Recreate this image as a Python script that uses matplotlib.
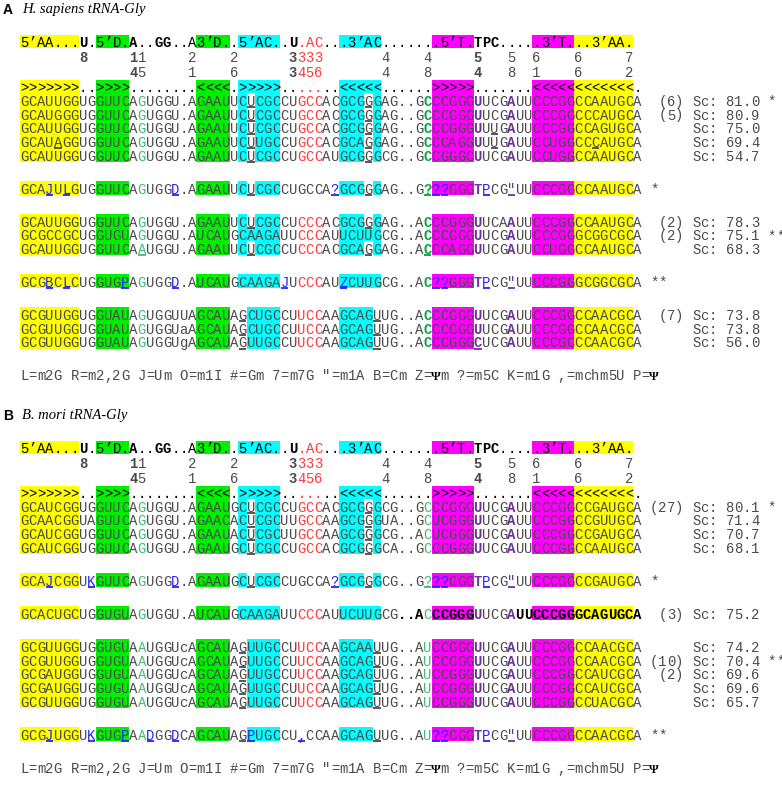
import matplotlib.pyplot as plt
from matplotlib.patches import Rectangle

plt.rcParams['font.family'] = ['Liberation Mono', 'DejaVu Sans Mono']

# ---------------- data ----------------
head = "5’AA... U . 5’D. A .. GG .. A 3’D. . 5’AC. . U .AC .. .3’AC ...... .5’T. TPC .... .3’T. ..3’AA.".replace(" ", "")
struct = ">>>>>>> .. >>>> ........ <<<< . >>>>> ....... <<<<< ...... >>>>> ....... <<<<< <<<<<<< .".replace(" ", "")
boxes = "YYYYYYY .. GGGG ........ GGGG . CCCCC ....... CCCCC ...... MMMMM ....... MMMMM YYYYYYY .".replace(" ", "")
num_top = {7: "8", 13: "11", 20: "2", 25: "2", 32: "3333", 43: "4", 48: "4", 54: "5", 58: "5", 61: "6", 66: "6", 72: "7"}
num_bot = {13: "45", 20: "1", 25: "6", 32: "3456", 43: "4", 48: "8", 54: "4", 58: "8", 61: "1", 66: "6", 72: "2"}
legend = 'L=m2G R=m2,2G J=Um O=m1I #=Gm 7=m7G "=m1A B=Cm Z=Ψm ?=m5C K=m1G ,=mchm5U P=Ψ'

seqs_a = [
    "GCAUUGG UG GUUC AGUGGU.A GAAU U CUCGC CU GCC AC GCGGG AG..G C CCGGG U UCG A UU CCCGG CCAAUGC A",
    "GCAUGGG UG GUUC AGUGGU.A GAAU U CUCGC CU GCC AC GCGGG AG..G C CCGGG U UCG A UU CCCGG CCCAUGC A",
    "GCAUUGG UG GUUC AGUGGU.A GAAU U CUCGC CU GCC AC GCGGG AG..G C CCGGG U UUG A UU CCCGG CCAGUGC A",
    "GCAUAGG UG GUUC AGUGGU.A GAAU U CUUGC CU GCC AC GCAGG AG..G C CCAGG U UUG A UU CCUGG CCCAUGC A",
    "GCAUUGG UG GUUC AGUGGU.A GAAU U CUCGC CU GCC AU GCGGG CG..G C CGGGC U UCG A UU CCUGG CCAAUGC A",
    "GCAJULG UG GUUC AGUGGD.A GAAU U CUCGC CU GCC A? GCGGG AG..G ? ??GGG T PCG \" UU CCCGG CCAAUGC A",
    "GCAUUGG UG GUUC AGUGGU.A GAAU U CUCGC CU CCC AC GCGGG AG..A C CCGGG U UCA A UU CCCGG CCAAUGC A",
    "GCGCCGC UG GUGU AGUGGU.A UCAU G CAAGA UU CCC AU UCUUG CG..A C CCGGG U UCG A UU CCCGG GCGGCGC A",
    "GCAUUGG UG GUUC AAUGGU.A GAAU U CUCGC CU CCC AC GCAGG AG..A C CCAGG U UCG A UU CCUGG CCAAUGC A",
    "GCGBCLC UG GUGP AGUGGD.A UCAU G CAAGA JU CCC AU ZCUUG CG..A C ??GGG T PCG \" UU CCCGG GCGGCGC A",
    "GCGUUGG UG GUAU AGUGGUUA GCAU A GCUGC CU UCC AA GCAGU UG..A C CCGGG U UCG A UU CCCGG CCAACGC A",
    "GCGUUGG UG GUAU AGUGGUaA GCAU A GCUGC CU UCC AA GCAGU UG..A C CCGGG U UCG A UU CCCGG CCAACGC A",
    "GCGUUGG UG GUAU AGUGGUgA GCAU A GUUGC CU UCC AA GCAGU UG..A C CCGGG C UCG A UU CCCGC CCAACGC A",
]
groups_a = [5, 1, 3, 1, 3]
ul_a = [[27, 41], [27, 41], [27, 41, 56], [4, 27, 41, 56, 68], [27, 41], [27, 41], [27, 41], [],
        [14, 27, 41, 48], [], [26, 42], [26, 42], [26, 42, 54]]
red_a = [1, 1, 1, 1, 1, 0, 1, 1, 1, 1, 1, 1, 1]
counts_a = ["(6)", "(5)", "", "", "", "", "(2)", "(2)", "", "", "(7)", "", ""]
scores_a = ["81.0", "80.9", "75.0", "69.4", "54.7", "", "78.3", "75.1", "68.3", "", "73.8", "73.8", "56.0"]
stars_a = ["*", "", "", "", "", "*", "", "**", "", "**", "", "", ""]

seqs_b = [
    "GCAUCGG UG GUUC AGUGGU.A GAAU G CUCGC CU GCC AC GCGGG CG..G C CCGGG U UCG A UU CCCGG CCGAUGC A",
    "GCAACGG UA GUUC AGUGGU.A GAAC A CUCGC UU GCC AA GCGGG UA..G C UCGGG U UCG A UU CCCGG CCGUUGC A",
    "GCAUCGG UG GUUC AGUGGU.A GAAU A CUCGC UU GCC AA GCGGG CG..A C UCGGG U UCG A UU CCCGG CCGAUGC A",
    "GCAUCGG UG GUUC AGUGGU.A GAAU G CUCGC CU GCC AC GCGGG CA..G C CCGGG U UCG A UU CCCGG CCAAUGC A",
    "GCAJCGG UK GUUC AGUGGD.A GAAU G CUCGC CU GCC A? GCGGG CG..G ? ??GGG T PCG \" UU CCCGG CCGAUGC A",
    "GCACUGC UG GUGU AGUGGU.A UCAU G CAAGA UU CCC AU UCUUG CG..A C CCGGG U UCG A UU CCCGG GCAGUGC A",
    "GCGUUGG UG GUGU AAUGGUcA GCAU A GUUGC CU UCC AA GCAAU UG..A U CCGGG U UCG A UU CCCGG CCAACGC A",
    "GCGUUGG UG GUGU AAUGGUcA GCAU A GUUGC CU UCC AA GCAGU UG..A U CCGGG U UCG A UU CCCGG CCAACGC A",
    "GCGAUGG UG GUGU AAUGGUcA GCAU A GUUGC CU UCC AA GCAGU UG..A U CCGGG U UCG A UU CCCGG CCAUCGC A",
    "GCGAUGG UG GUGU AAUGGUcA GCAU A GUUGC CU UCC AA GCAGU UG..A U CCGGG U UCG A UU CCCGG CCAUCGC A",
    "GCGUUGG UG GUGU AAUGGUcA GCAU A GUUGC CU UCC AA GCAGU UG..A U CCGGG U UCG A UU CCCGG CCUACGC A",
    "GCGJUGG UK GUGP AADGGDCA GCAU A GPUGC CU ,CC AA GCAGU UG..A U ??GGG T PCG \" UU CCCGG CCAACGC A",
]
groups_b = [4, 1, 1, 5, 1]
ul_b = [[27, 41], [27, 41], [27, 41], [27, 41], [27, 41], [],
        [26, 42], [26, 42], [26, 42], [26, 42], [26, 42], [26, 42]]
red_b = [1, 1, 1, 1, 0, 1, 1, 1, 1, 1, 1, 0]
counts_b = ["(27)", "", "", "", "", "(3)", "", "(10)", "(2)", "", "", ""]
scores_b = ["80.1", "71.4", "70.7", "68.1", "", "75.2", "74.2", "70.4", "69.6", "69.6", "65.7", ""]
stars_b = ["*", "", "", "", "*", "", "", "**", "", "", "", "**"]
bold_b = {5: list(range(45, 48)) + list(range(49, 54)) + list(range(59, 74))}

# ---------------- style ----------------
GRAY = '#4a4a4a'
RED = '#ff3a3a'
LGREEN = '#3cbf6e'
DGREEN = '#00a83a'
PURPLE = '#7030a0'
BLUE = '#2222ff'
FILL = {'Y': '#ffff00', 'G': '#00ee00', 'C': '#00ffff', 'M': '#ff00ff'}
MODS = set("JLDBZKP?,")

W, H = 782, 812
X0, CW = 20, 8.4
LH, GAP = 13.7, 33
FS = 10

fig = plt.figure(figsize=(W / 100, H / 100), dpi=100)
ax = fig.add_axes([0, 0, 1, 1])
ax.set_xlim(0, W)
ax.set_ylim(H, 0)
ax.axis('off')


def put(c, y, ch, color=GRAY, bold=False, ul=False, fam=None, size=FS):
    if ch != ' ':
        kw = {'family': fam} if fam else {}
        ax.text(X0 + CW * c + CW / 2, y + 4.6, ch, ha='center', va='baseline', fontsize=size,
                color=color, fontweight='bold' if bold else 'normal', zorder=3, **kw)
    if ul:
        ax.plot([X0 + CW * c + 0.5, X0 + CW * (c + 1) - 0.5], [y + 6.8, y + 6.8],
                color=color, lw=1.3, solid_capstyle='butt', zorder=3)


def fill(y, marks, h):
    c = 0
    while c < len(marks):
        m = marks[c]
        if m in FILL:
            e = c
            while e + 1 < len(marks) and marks[e + 1] == m:
                e += 1
            ax.add_patch(Rectangle((X0 + CW * c, y - 7), CW * (e - c + 1), h, color=FILL[m], lw=0, zorder=1))
            c = e + 1
        else:
            c += 1


def put_str(c, y, s, color=GRAY):
    for i, ch in enumerate(s):
        if ch == 'Ψ':
            put(c + i, y, ch, 'black', bold=True, fam='Liberation Serif', size=9)
        else:
            put(c + i, y, ch, color)


def panel(y0, tag, name, seqs, groups, ul, red, counts, scores, stars, strong48, bold_rows):
    ax.text(3, y0, tag, family='Liberation Sans', fontweight='bold', fontsize=10, va='center')
    ax.text(22, y0, name, family='Liberation Serif', style='italic', fontsize=10.5, va='center')

    y = y0 + 32
    fill(y + 0.5, boxes[:73], 13)
    for c, ch in enumerate(head):
        put(c, y, ch, RED if 33 <= c <= 35 else 'black', bold=c in (7, 13, 16, 17, 32, 54, 55, 56))
    for nums in (num_top, num_bot):
        y += 15
        for c0, digits in nums.items():
            for i, d in enumerate(digits):
                c = c0 + i
                put(c, y, d, RED if 33 <= c <= 35 else GRAY, bold=c in (7, 13, 32, 54))
    y += 15.5
    fill(y, boxes, LH)
    for c, ch in enumerate(struct):
        put(c, y, ch, RED if 33 <= c <= 35 else 'black')

    i = 0
    for g, n in enumerate(groups):
        y += GAP if g > 0 else LH
        for k in range(n):
            if k > 0:
                y += LH
            seq = seqs[i].replace(" ", "")
            assert len(seq) == 74, (tag, i, len(seq))
            marks = [('.' if (b == 'C' and c in ul[i] and seq[c] not in MODS) else b)
                     for c, b in enumerate(boxes)]
            fill(y, marks, LH)
            bolds = bold_rows.get(i, [])
            for c, ch in enumerate(seq):
                color, bold, u = GRAY, c in bolds, c in ul[i]
                if ch in MODS:
                    u = True
                    color = (DGREEN if strong48 else LGREEN) if c == 48 else BLUE
                    bold = strong48 and c == 48
                elif ch == '"':
                    color, u = PURPLE, True
                elif c in (54, 58):
                    color, bold = PURPLE, True
                elif c == 48:
                    color, bold = (DGREEN, True) if strong48 else (LGREEN, False)
                elif c == 14:
                    color = LGREEN
                elif 33 <= c <= 35 and red[i]:
                    color = RED
                if bold and color == GRAY:
                    color = 'black'
                put(c, y, ch, color, bold, u)
            if counts[i]:
                put_str(79 - len(counts[i]), y, counts[i])
            if scores[i]:
                put_str(80, y, "Sc: " + scores[i])
                put_str(89, y, stars[i])
            elif stars[i]:
                put_str(75, y, stars[i])
            i += 1
    y += GAP
    put_str(0, y, legend)


panel(10, "A", "H. sapiens tRNA-Gly", seqs_a, groups_a, ul_a, red_a,
      counts_a, scores_a, stars_a, True, {})
panel(416, "B", "B. mori tRNA-Gly", seqs_b, groups_b, ul_b, red_b,
      counts_b, scores_b, stars_b, False, bold_b)

fig.savefig("out.png", dpi=100)
